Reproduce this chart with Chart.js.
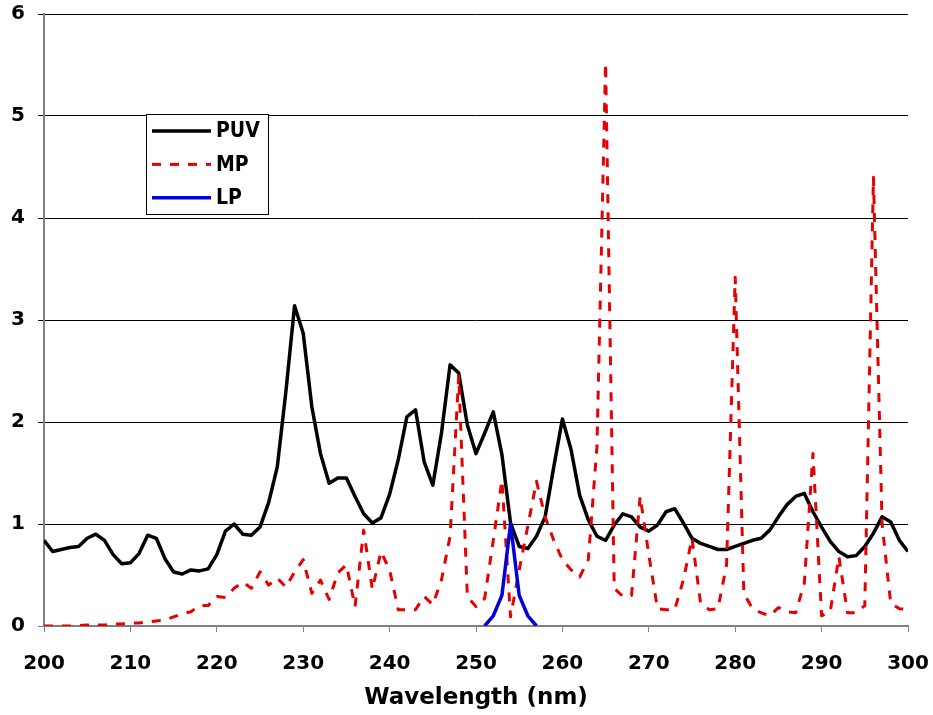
<!DOCTYPE html>
<html>
<head>
<meta charset="utf-8">
<script src="https://cdn.jsdelivr.net/npm/chart.js@4.4.1/dist/chart.umd.min.js"></script>
<style>
  html, body { margin: 0; padding: 0; background: #fff; }
  #wrap { width: 933px; height: 715px; }
</style>
</head>
<body>
<div id="wrap"><canvas id="spectrum"></canvas></div>
<script>
// wavelength (nm), one point per nm
const wavelengths = [
  200, 201, 202, 203, 204, 205, 206, 207, 208, 209,
  210, 211, 212, 213, 214, 215, 216, 217, 218, 219,
  220, 221, 222, 223, 224, 225, 226, 227, 228, 229,
  230, 231, 232, 233, 234, 235, 236, 237, 238, 239,
  240, 241, 242, 243, 244, 245, 246, 247, 248, 249,
  250, 251, 252, 253, 254, 255, 256, 257, 258, 259,
  260, 261, 262, 263, 264, 265, 266, 267, 268, 269,
  270, 271, 272, 273, 274, 275, 276, 277, 278, 279,
  280, 281, 282, 283, 284, 285, 286, 287, 288, 289,
  290, 291, 292, 293, 294, 295, 296, 297, 298, 299,
  300
];

const puv = [
  0.84, 0.73, 0.75, 0.77, 0.78, 0.86, 0.90, 0.84, 0.70, 0.61,
  0.62, 0.71, 0.89, 0.86, 0.66, 0.53, 0.51, 0.55, 0.54, 0.56,
  0.70, 0.93, 1.00, 0.90, 0.89, 0.97, 1.21, 1.56, 2.30, 3.14,
  2.87, 2.15, 1.69, 1.40, 1.45, 1.45, 1.27, 1.10, 1.01, 1.06,
  1.29, 1.63, 2.05, 2.12, 1.61, 1.38, 1.89, 2.56, 2.48, 1.97,
  1.69, 1.89, 2.10, 1.68, 1.01, 0.78, 0.76, 0.88, 1.07, 1.56,
  2.03, 1.73, 1.28, 1.04, 0.88, 0.84, 0.99, 1.10, 1.07, 0.97,
  0.93, 0.99, 1.12, 1.15, 1.01, 0.86, 0.81, 0.78, 0.75, 0.75,
  0.78, 0.81, 0.84, 0.86, 0.94, 1.07, 1.19, 1.27, 1.30, 1.12,
  0.97, 0.83, 0.73, 0.68, 0.69, 0.78, 0.91, 1.07, 1.02, 0.84,
  0.73
];

const mp = [
  0, 0, 0, 0, 0.005, 0.01, 0.01, 0.01, 0.02, 0.02,
  0.03, 0.03, 0.04, 0.05, 0.06, 0.09, 0.12, 0.14, 0.20, 0.20,
  0.29, 0.28, 0.37, 0.43, 0.37, 0.53, 0.40, 0.47, 0.38, 0.53,
  0.65, 0.32, 0.45, 0.26, 0.52, 0.60, 0.19, 0.94, 0.36, 0.73,
  0.55, 0.16, 0.16, 0.16, 0.29, 0.21, 0.45, 0.88, 2.45, 0.29,
  0.19, 0.27, 0.84, 1.43, 0.09, 0.55, 0.98, 1.42, 1.07, 0.84,
  0.65, 0.55, 0.48, 0.65, 1.76, 5.52, 0.37, 0.29, 0.30, 1.27,
  0.70, 0.17, 0.16, 0.16, 0.45, 0.86, 0.22, 0.16, 0.17, 0.60,
  3.42, 0.32, 0.17, 0.13, 0.10, 0.18, 0.14, 0.13, 0.42, 1.69,
  0.10, 0.14, 0.68, 0.13, 0.13, 0.20, 4.40, 1.00, 0.22, 0.17,
  0.16
];

const lpWavelengths = [251, 252, 253, 254, 255, 256, 257];
const lp = [0, 0.1, 0.3, 1.0, 0.3, 0.1, 0];

function points(xs, ys) {
  return xs.map((x, i) => ({ x: x, y: ys[i] }));
}

// legend drawn as a boxed key inside the plot, like the original
const boxLegend = {
  id: 'boxLegend',
  afterDatasetsDraw(chart) {
    const ctx = chart.ctx;
    const x = 146, y = 114, w = 122, h = 100;
    ctx.save();
    ctx.fillStyle = '#fff';
    ctx.fillRect(x, y, w, h);
    ctx.strokeStyle = '#000';
    ctx.lineWidth = 1;
    ctx.strokeRect(x + 0.5, y + 0.5, w, h);
    ctx.font = 'bold 21px "DejaVu Sans Condensed", "DejaVu Sans", sans-serif';
    ctx.textBaseline = 'middle';
    ctx.textAlign = 'left';
    chart.data.datasets.forEach((ds, i) => {
      const ly = y + 17 + i * 33.4;
      ctx.beginPath();
      ctx.setLineDash(ds.borderDash || []);
      ctx.strokeStyle = ds.borderColor;
      ctx.lineWidth = ds.borderWidth;
      ctx.moveTo(x + 6, ly);
      ctx.lineTo(x + 65, ly);
      ctx.stroke();
      ctx.setLineDash([]);
      ctx.fillStyle = '#000';
      ctx.fillText(ds.label, x + 70, ly + 1);
    });
    ctx.restore();
  }
};

const tickFont = { family: '"DejaVu Sans", sans-serif', size: 20, weight: 'bold' };

new Chart(document.getElementById('spectrum').getContext('2d'), {
  type: 'line',
  data: {
    datasets: [
      {
        label: 'PUV',
        data: points(wavelengths, puv),
        borderColor: '#000000',
        borderWidth: 3.5,
        order: 3
      },
      {
        label: 'MP',
        data: points(wavelengths, mp),
        borderColor: '#e60000',
        borderWidth: 3,
        borderDash: [9, 9],
        order: 2
      },
      {
        label: 'LP',
        data: points(lpWavelengths, lp),
        borderColor: '#0000d8',
        borderWidth: 3.5,
        order: 1
      }
    ]
  },
  options: {
    responsive: true,
    maintainAspectRatio: false,
    animation: false,
    layout: { padding: { top: 14, right: 25, left: 0, bottom: 0 } },
    elements: {
      point: { radius: 0 },
      line: { tension: 0, fill: false, borderJoinStyle: 'round' }
    },
    plugins: {
      legend: { display: false },
      tooltip: { enabled: false }
    },
    scales: {
      x: {
        type: 'linear',
        min: 200,
        max: 300,
        afterFit: s => {
          s.height = 89;
          s.paddingLeft = 0;
          s.paddingRight = 0;
        },
        ticks: { stepSize: 10, color: '#000', font: tickFont, padding: 20, maxRotation: 0 },
        grid: { drawOnChartArea: false, drawTicks: true, tickLength: 6, color: '#808080' },
        border: { color: '#808080', width: 2 },
        title: {
          display: true,
          text: 'Wavelength (nm)',
          color: '#000',
          font: { family: '"DejaVu Sans", sans-serif', size: 23, weight: 'bold' },
          padding: { top: 0, bottom: 3 }
        }
      },
      y: {
        min: 0,
        max: 6,
        afterFit: s => {
          s.width = 44;
          s.paddingTop = 0;
          s.paddingBottom = 0;
        },
        ticks: { stepSize: 1, color: '#000', font: tickFont, padding: 13 },
        grid: {
          color: c => (c.tick && c.tick.value === 0 ? '#808080' : '#000000'),
          lineWidth: 1,
          tickLength: 6
        },
        border: { color: '#808080', width: 2 }
      }
    }
  },
  plugins: [boxLegend]
});
</script>
</body>
</html>
